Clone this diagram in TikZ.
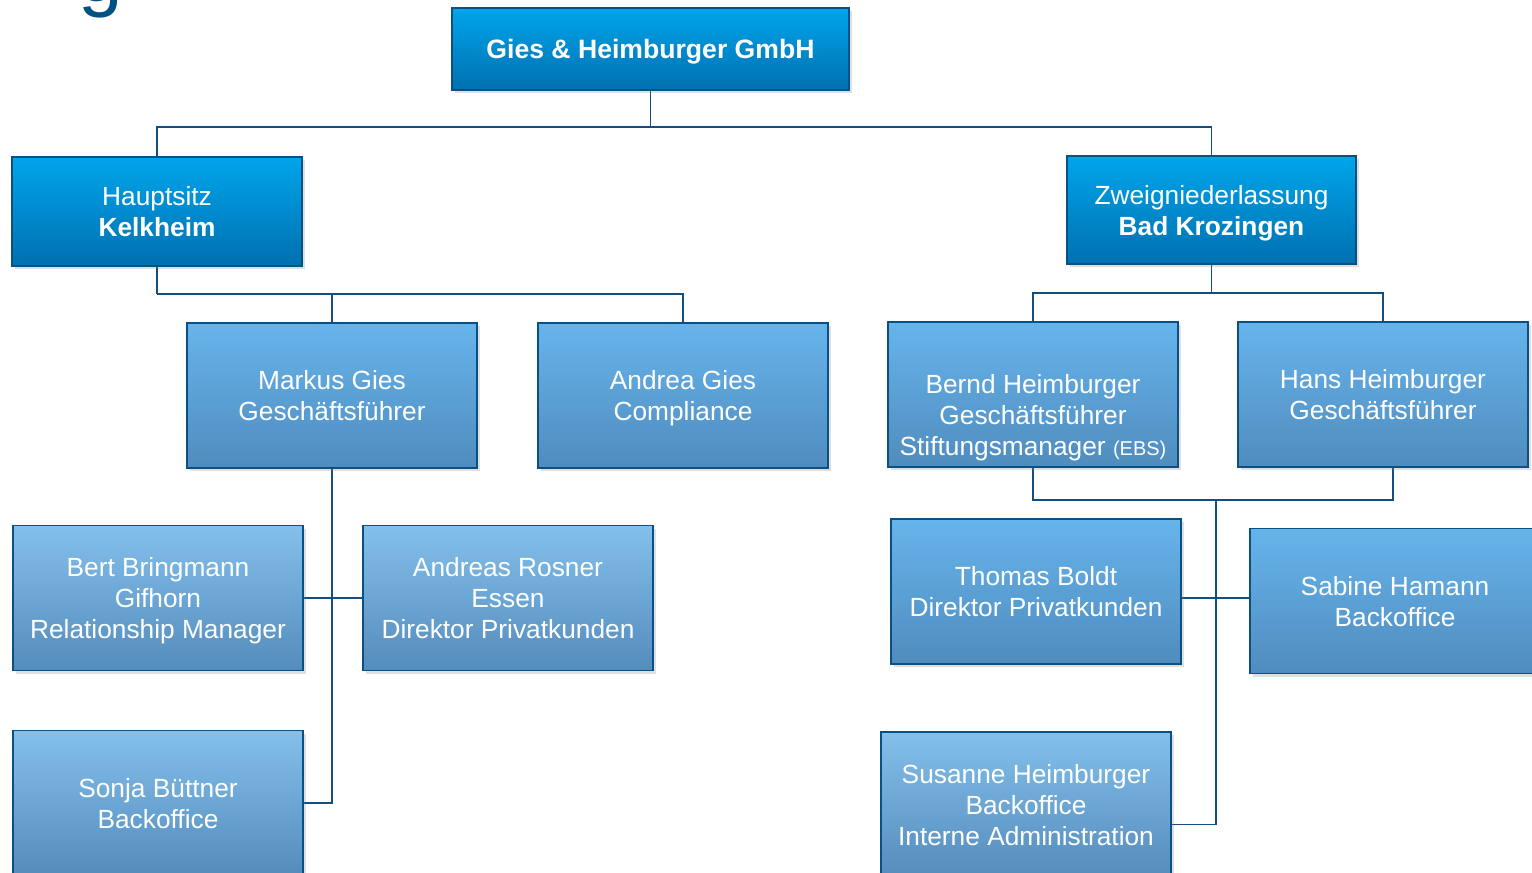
\documentclass[tikz,border=0pt]{standalone}
\usepackage{fontspec}
\setmainfont{Liberation Sans}
\usepackage{tikz}
\usetikzlibrary{positioning, calc, shadows, backgrounds}
\definecolor{ghLine}{RGB}{18,78,128}
\definecolor{ghBorder}{RGB}{10,80,130}
\definecolor{ghTitle}{RGB}{0,80,130}
\definecolor{ghDarkTop}{RGB}{0,165,235}
\definecolor{ghDarkBot}{RGB}{0,112,176}
\definecolor{ghMidTop}{RGB}{102,180,236}
\definecolor{ghMidBot}{RGB}{80,140,190}
\definecolor{ghPaleTop}{RGB}{132,192,236}
\definecolor{ghPaleBot}{RGB}{84,140,188}

\tikzset{
	orgbox/.style={rectangle, draw=ghBorder, line width=1.5pt, text=white, align=center,
		font=\fontsize{26.3}{31}\selectfont, inner sep=2pt, text depth=-4pt,
		drop shadow={opacity=0.25, shadow xshift=3pt, shadow yshift=-3pt}},
	darkbox/.style={orgbox, top color=ghDarkTop, bottom color=ghDarkBot},
	midbox/.style={orgbox, top color=ghMidTop, bottom color=ghMidBot, minimum width=290pt, minimum height=145pt},
	palebox/.style={orgbox, top color=ghPaleTop, bottom color=ghPaleBot, minimum width=290pt, minimum height=145pt},
	conn/.style={draw=ghLine, line width=1.6pt}
}

\begin{document}
\begin{tikzpicture}[x=1pt, y=-1pt]
	\useasboundingbox (0,0) rectangle (1532,873);
	\clip (0,0) rectangle (1532,873);
	
	% Cut-off title
	\node[anchor=base, text=ghTitle, font=\fontsize{80}{80}\selectfont, inner sep=0pt] (title) at (101,1) {g};
	
	% Company and sites
	\node[darkbox, minimum width=397pt, minimum height=82pt, font=\fontsize{26.6}{31}\selectfont\bfseries] (gmbh) at (650.5,49) {Gies \& Heimburger GmbH};
	\node[darkbox, minimum width=290pt, minimum height=109pt] (hq) at (157,211.5) {Hauptsitz\\\textbf{Kelkheim}};
	\node[darkbox, minimum width=289pt, minimum height=108pt] (branch) at (1211.5,210) {Zweigniederlassung\\\textbf{Bad Krozingen}};
	
	% Management
	\node[midbox] (markus) at (332,395.5) {Markus Gies\\Geschäftsführer};
	\node[midbox] (andrea) at (683,395.5) {Andrea Gies\\Compliance};
	\node[midbox] (bernd) at (1033,394.5) {\rule{0pt}{60pt}Bernd Heimburger\\Geschäftsführer\\Stiftungsmanager {\fontsize{20}{31}\selectfont(EBS)}};
	\node[midbox] (hans) at (1383,394.5) {Hans Heimburger\\Geschäftsführer};
	
	% Staff Kelkheim
	\node[palebox] (bert) at (158,598) {Bert Bringmann\\Gifhorn\\Relationship Manager};
	\node[palebox] (rosner) at (508,598) {Andreas Rosner\\Essen\\Direktor Privatkunden};
	\node[palebox] (sonja) at (158,803) {Sonja Büttner\\Backoffice};
	
	% Staff Bad Krozingen
	\node[midbox] (boldt) at (1036,591.5) {Thomas Boldt\\Direktor Privatkunden};
	\node[midbox] (hamann) at (1395,601) {Sabine Hamann\\Backoffice};
	\node[palebox] (susanne) at (1026,804.5) {Susanne Heimburger\\Backoffice\\Interne Administration};
	
	% Connections
	\begin{scope}[on background layer]
		\draw[conn] (gmbh.south) -- ++(0,36) coordinate (gbar);
		\draw[conn] (hq.north) |- (gbar) -| (branch.north);
		
		\draw[conn] (hq.south) -- ++(0,27) coordinate (hqbar);
		\draw[conn] (markus.north) |- (hqbar) -| (andrea.north);
		\draw[conn] (markus.south) |- (sonja.east);
		\draw[conn] (bert.east) -- (rosner.west);
		
		\draw[conn] (branch.south) -- ++(0,28) coordinate (brbar);
		\draw[conn] (bernd.north) |- (brbar) -| (hans.north);
		\draw[conn] (bernd.south) -- ++(0,32) -| ([xshift=10pt]hans.south);
		\coordinate (ebar) at (1216,499);
		\draw[conn] (ebar) |- ([yshift=-20pt]susanne.east);
		\draw[conn] ([yshift=-6.5pt]boldt.east) -- ([yshift=-6.5pt]boldt.east -| hamann.west);
	\end{scope}
\end{tikzpicture}
\end{document}
